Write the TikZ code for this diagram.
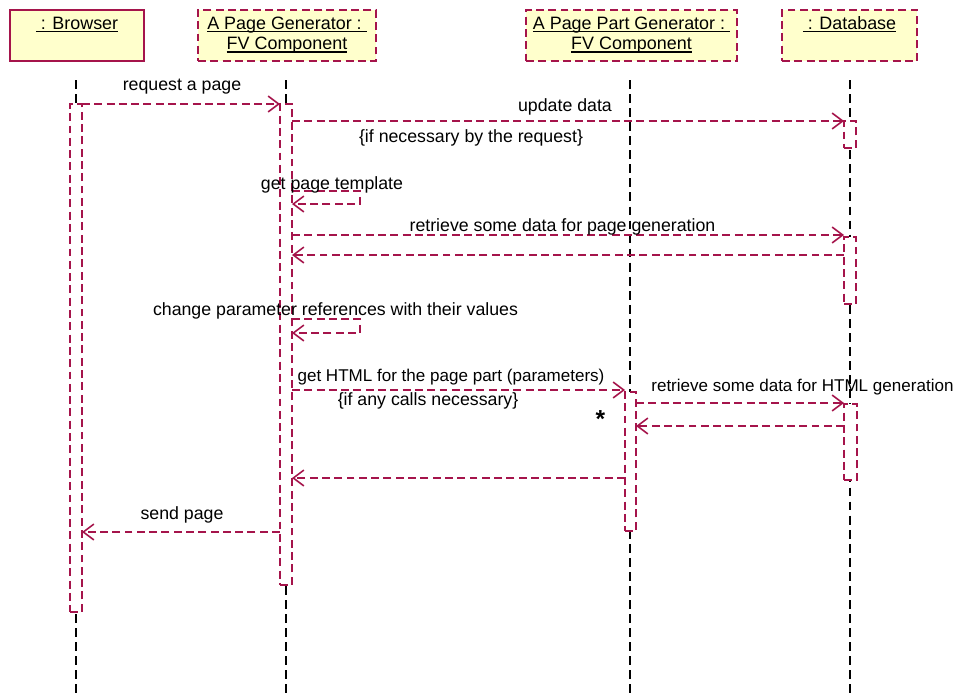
\documentclass[tikz,border=0pt]{standalone}
\usepackage{fontspec}
\setmainfont{Liberation Sans}
\usetikzlibrary{arrows.meta}
\definecolor{umlred}{RGB}{165,20,75}
\definecolor{umlfill}{RGB}{255,255,204}
% underlined title text, rule just below the baseline
\newcommand{\ulab}[1]{\setbox0\hbox{#1}\rlap{\rule[-1.7pt]{\wd0}{0.9pt}}\box0}
% two-line title set slightly below the box centre
\newcommand{\headtext}[2]{\raisebox{-2.8pt}{\begin{tabular}{@{}c@{}}#1\\#2\end{tabular}}}
\begin{document}
\begin{tikzpicture}[x=0.02cm,y=-0.02cm,
  objbox/.style={draw=umlred,fill=umlfill,line width=0.9pt,inner sep=0pt,outer sep=0pt,
    minimum height=1.02cm,font=\fontsize{10.2}{11.6}\selectfont},
  reddash/.style={dash pattern=on 4.5pt off 2.5pt},
  lifeline/.style={draw=black,line width=0.9pt,dash pattern=on 5pt off 3pt},
  activation/.style={draw=umlred,fill=white,line width=0.9pt,reddash,
    inner sep=0pt,outer sep=0pt,minimum width=0.24cm},
  msg/.style={draw=umlred,line width=0.9pt,reddash,
    -{Straight Barb[length=6pt,width=9pt,line width=0.9pt]}},
  lbl/.style={font=\fontsize{10.1}{12}\selectfont,inner sep=0pt,anchor=base},
  narrowlbl/.style={lbl,font=\fontsize{9.7}{12}\selectfont},
]
\useasboundingbox (0,0) rectangle (954,693);

% object heads
\node[objbox,minimum width=2.68cm] (browser) at (77,35.5)
  {\headtext{\ulab{~: Browser}}{\strut}};
\node[objbox,reddash,minimum width=3.56cm] (pagegen) at (287,35.5)
  {\headtext{\ulab{A Page Generator :~}}{\ulab{FV Component}}};
\node[objbox,reddash,minimum width=4.22cm] (partgen) at (631.5,35.5)
  {\headtext{\ulab{A Page Part Generator :~}}{\ulab{FV Component}}};
\node[objbox,reddash,minimum width=2.70cm] (database) at (849.5,35.5)
  {\headtext{\ulab{~: Database}}{\strut}};

% lifelines
\coordinate (bTop) at (76,80);   \coordinate (bEnd) at (76,693);
\coordinate (gTop) at (286,80);  \coordinate (gEnd) at (286,693);
\coordinate (pTop) at (630,80);  \coordinate (pEnd) at (630,693);
\coordinate (dTop) at (850,80);  \coordinate (dEnd) at (850,693);
\draw[lifeline] (bTop) -- (bEnd);
\draw[lifeline] (gTop) -- (gEnd);
\draw[lifeline] (pTop) -- (pEnd);
\draw[lifeline] (dTop) -- (dEnd);

% activation bars
\node[activation,anchor=north,minimum height=10.16cm] (actB) at (76,104) {};
\node[activation,anchor=north,minimum height=9.62cm] (actG) at (286,104) {};
\node[activation,anchor=north,minimum height=0.54cm] (actD1) at (850,121) {};
\node[activation,anchor=north,minimum height=1.34cm] (actD2) at (850,237) {};
\node[activation,anchor=north,minimum height=2.78cm,minimum width=0.22cm] (actP) at (630.5,392) {};
\node[activation,anchor=north,minimum height=1.52cm,minimum width=0.26cm] (actD3) at (850.5,404) {};

% message levels
\coordinate (m1) at (0,104);
\coordinate (m2) at (0,121);
\coordinate (m3a) at (0,191); \coordinate (m3b) at (0,204);
\coordinate (m4) at (0,235);
\coordinate (m5) at (0,255);
\coordinate (m6a) at (0,319); \coordinate (m6b) at (0,333);
\coordinate (m7) at (0,390);
\coordinate (m8) at (0,403);
\coordinate (m9) at (0,426);
\coordinate (m10) at (0,478);
\coordinate (m11) at (0,532);
\coordinate (loopx) at (360,0);

% messages
\draw[msg] (actB.east |- m1) -- (actG.west |- m1);
\draw[msg] (actG.east |- m2) -- (actD1.west |- m2);
\draw[msg] (actG.east |- m3a) -- (loopx |- m3a) -- (loopx |- m3b) -- (actG.east |- m3b);
\draw[msg] (actG.east |- m4) -- (actD2.west |- m4);
\draw[msg] (actD2.west |- m5) -- (actG.east |- m5);
\draw[msg] (actG.east |- m6a) -- (loopx |- m6a) -- (loopx |- m6b) -- (actG.east |- m6b);
\draw[msg] (actG.east |- m7) -- (actP.west |- m7);
\draw[msg] (actP.east |- m8) -- (actD3.west |- m8);
\draw[msg] (actD3.west |- m9) -- (actP.east |- m9);
\draw[msg] (actP.west |- m10) -- (actG.east |- m10);
\draw[msg] (actG.west |- m11) -- (actB.east |- m11);

% message labels (placed on their baselines)
\node[lbl] (l1) at (182,91) {request a page};
\node[lbl] (l2) at (565,111) {update data};
\node[lbl] (l2c) at (471,142) {\{if necessary by the request\}};
\node[lbl] (l3) at (332,189) {get page template};
\node[lbl] (l4) at (562.5,231) {retrieve some data for page generation};
\node[lbl] (l6) at (335.5,315) {change parameter references with their values};
\node[narrowlbl] (l7) at (451,381) {get HTML for the page part (parameters)};
\node[lbl] (l7c) at (428,405) {\{if any calls necessary\}};
\node[lbl,anchor=center,font=\fontsize{14}{14}\selectfont\bfseries] (star) at (600.5,419) {*};
\node[narrowlbl,anchor=base west] (l8) at (651,391) {retrieve some data for HTML generation};
\node[lbl] (l11) at (182,519) {send page};
\end{tikzpicture}
\end{document}
